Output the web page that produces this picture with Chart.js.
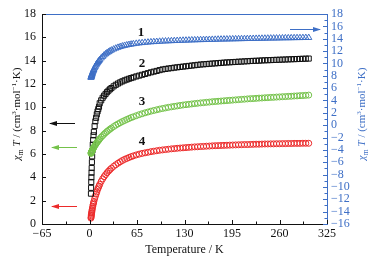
<!DOCTYPE html>
<html><head><meta charset="utf-8">
<script src="https://cdn.jsdelivr.net/npm/chart.js@4"></script>
<style>html,body{margin:0;padding:0;background:#fff}#wrap{width:375px;height:257px}</style>
</head><body><div id="wrap"><canvas id="c" width="375" height="257"></canvas></div>
<script>
const temps = [2,2.2,2.4,2.6,2.8,3,3.3,3.6,4,4.5,5,5.5,6,7,8,9,10,11,12,13,14,16,18,20,22,24,26,28,30,33,36,39,42,45,48,51,54,57,60,64,68,72,76,80,84,88,92,96,100,104,108,112,116,120,124,128,132,136,140,144,148,152,156,160,164,168,172,176,180,184,188,192,196,200,204,208,212,216,220,224,228,232,236,240,244,248,252,256,260,264,268,272,276,280,284,288,292,296,300];
const series1 = [7.7,7.78,7.86,7.94,8.02,8.1,8.2,8.3,8.43,8.6,8.76,8.9,9.03,9.27,9.5,9.72,9.92,10.1,10.27,10.43,10.58,10.85,11.1,11.33,11.53,11.7,11.86,12.0,12.13,12.3,12.45,12.58,12.7,12.8,12.89,12.97,13.04,13.1,13.16,13.23,13.29,13.34,13.39,13.43,13.47,13.5,13.53,13.56,13.59,13.61,13.63,13.65,13.67,13.69,13.71,13.73,13.74,13.76,13.78,13.79,13.81,13.82,13.83,13.85,13.86,13.87,13.88,13.9,13.91,13.92,13.93,13.94,13.95,13.96,13.97,13.98,13.99,14.0,14.01,14.02,14.03,14.04,14.05,14.06,14.07,14.08,14.08,14.09,14.1,14.11,14.12,14.12,14.13,14.14,14.15,14.15,14.16,14.17,14.17];
const series2 = [2.6,3.1,3.6,4.0,4.4,4.8,5.3,5.8,6.3,6.8,7.2,7.6,7.9,8.4,8.8,9.1,9.4,9.65,9.85,10.05,10.35,10.6,10.82,11.0,11.15,11.3,11.43,11.55,11.65,11.8,11.93,12.04,12.14,12.23,12.31,12.38,12.45,12.51,12.57,12.65,12.72,12.79,12.86,12.93,13.0,13.06,13.12,13.19,13.25,13.29,13.33,13.36,13.4,13.43,13.46,13.49,13.52,13.55,13.58,13.61,13.64,13.67,13.69,13.71,13.73,13.75,13.77,13.79,13.81,13.83,13.85,13.86,13.88,13.89,13.91,13.92,13.94,13.95,13.97,13.98,13.99,14.0,14.02,14.03,14.04,14.05,14.06,14.07,14.08,14.09,14.1,14.11,14.12,14.13,14.14,14.15,14.16,14.17,14.18];
const series3 = [6.05,6.08,6.11,6.14,6.17,6.2,6.24,6.28,6.33,6.4,6.46,6.52,6.58,6.68,6.78,6.88,6.97,7.06,7.14,7.22,7.3,7.44,7.57,7.7,7.82,7.93,8.03,8.13,8.22,8.35,8.47,8.58,8.68,8.78,8.87,8.96,9.04,9.12,9.19,9.28,9.37,9.45,9.53,9.6,9.67,9.73,9.79,9.85,9.9,9.95,10.0,10.04,10.08,10.12,10.16,10.2,10.23,10.26,10.29,10.32,10.35,10.38,10.4,10.43,10.45,10.48,10.5,10.52,10.54,10.56,10.58,10.6,10.62,10.64,10.66,10.68,10.7,10.72,10.74,10.75,10.77,10.79,10.8,10.82,10.83,10.85,10.86,10.88,10.89,10.91,10.92,10.94,10.95,10.97,10.98,11.0,11.01,11.03,11.05];
const series4 = [0.5,0.6,0.7,0.8,0.9,0.98,1.1,1.22,1.36,1.52,1.67,1.8,1.93,2.16,2.37,2.56,2.74,2.95,3.1,3.25,3.4,3.65,3.87,4.06,4.23,4.39,4.53,4.66,4.78,4.94,5.08,5.21,5.33,5.44,5.54,5.62,5.7,5.77,5.84,5.92,5.99,6.05,6.1,6.15,6.2,6.24,6.28,6.32,6.35,6.38,6.41,6.44,6.46,6.49,6.51,6.53,6.55,6.57,6.59,6.61,6.62,6.64,6.65,6.67,6.68,6.7,6.71,6.72,6.73,6.74,6.75,6.76,6.77,6.78,6.79,6.8,6.81,6.81,6.82,6.83,6.84,6.84,6.85,6.86,6.86,6.87,6.87,6.88,6.88,6.89,6.89,6.9,6.9,6.91,6.91,6.91,6.92,6.92,6.92];
const seriesLabels = ['1','2','3','4'];
const xTicks = [-65,0,65,130,195,260,325];
const leftTicks = [0,2,4,6,8,10,12,14,16,18];
const rightTicks = [-16,-14,-12,-10,-8,-6,-4,-2,0,2,4,6,8,10,12,14,16,18];

const BLUE = '#3e6fc6', BLACK = '#111', GREEN = '#74c24a', RED = '#ec2a2a';
const SERIF = '"Liberation Serif", "DejaVu Serif", serif';
const fmt = v => v < 0 ? '−' + Math.abs(v) : String(v);

function pts(vals){ return temps.map((t,i)=>({x:t,y:vals[i]})); }

function arrow(ctx, x1, y, x2, color){
  ctx.save(); ctx.strokeStyle=color; ctx.fillStyle=color; ctx.lineWidth=1;
  ctx.beginPath(); ctx.moveTo(x1,y+0.5); ctx.lineTo(x2,y+0.5); ctx.stroke();
  const d = x2 > x1 ? 1 : -1;
  ctx.beginPath(); ctx.moveTo(x2+d*1,y+0.5); ctx.lineTo(x2-d*7,y-2); ctx.lineTo(x2-d*7,y+3); ctx.closePath(); ctx.fill();
  ctx.restore();
}

function drawTitle(ctx, cx, cy, color, targetLen){
  ctx.save(); ctx.translate(cx, cy); ctx.rotate(-Math.PI/2);
  ctx.fillStyle = color; ctx.textBaseline='alphabetic';
  const parts = [
    ['italic 11px '+SERIF, 'χ', 0],
    ['8px '+SERIF, 'm', 3],
    ['italic 11px '+SERIF, ' T', 0],
    ['11px '+SERIF, ' / (cm', 0],
    ['7px '+SERIF, '3', -4.5],
    ['11px '+SERIF, '·mol', 0],
    ['7px '+SERIF, '−1', -4.5],
    ['11px '+SERIF, '·K)', 0]
  ];
  let total = 0;
  parts.forEach(p=>{ ctx.font=p[0]; total += ctx.measureText(p[1]).width; });
  const k = Math.min(1, targetLen/total);
  ctx.scale(k, 1);
  let x = -total/2;
  parts.forEach(p=>{ ctx.font=p[0]; ctx.fillText(p[1], x, 4+p[2]); x += ctx.measureText(p[1]).width; });
  ctx.restore();
}

const decor = {
  id:'decor',
  afterDraw(chart){
    const ctx = chart.ctx, a = chart.chartArea;
    const sx = chart.scales.x, sy = chart.scales.y, sy2 = chart.scales.y2;
    ctx.save();
    ctx.lineWidth = 1;
    ctx.strokeStyle = BLUE;
    ctx.beginPath(); ctx.moveTo(a.left, a.top+0.5); ctx.lineTo(a.right, a.top+0.5); ctx.stroke();
    ctx.strokeStyle = BLACK;
    xTicks.forEach((v,i)=>{
      const px = Math.round(sx.getPixelForValue(v))+0.5;
      ctx.beginPath(); ctx.moveTo(px, a.bottom); ctx.lineTo(px, a.bottom-4); ctx.stroke();
      if (i < xTicks.length-1){
        const pm = Math.round(sx.getPixelForValue(v+32.5))+0.5;
        ctx.beginPath(); ctx.moveTo(pm, a.bottom); ctx.lineTo(pm, a.bottom-2.5); ctx.stroke();
      }
    });
    leftTicks.forEach(v=>{
      const py = Math.round(sy.getPixelForValue(v))+0.5;
      ctx.beginPath(); ctx.moveTo(a.left, py); ctx.lineTo(a.left+4, py); ctx.stroke();
    });
    ctx.strokeStyle = BLUE;
    rightTicks.forEach((v,i)=>{
      const py = Math.round(sy2.getPixelForValue(v))+0.5;
      ctx.beginPath(); ctx.moveTo(a.right, py); ctx.lineTo(a.right-4, py); ctx.stroke();
      if (i < rightTicks.length-1){
        const pm = Math.round(sy2.getPixelForValue(v+1))+0.5;
        ctx.beginPath(); ctx.moveTo(a.right, pm); ctx.lineTo(a.right-2.5, pm); ctx.stroke();
      }
    });
    arrow(ctx, 75, 123, 50, BLACK);
    arrow(ctx, 77, 147, 52, GREEN);
    arrow(ctx, 77, 206, 52, RED);
    arrow(ctx, 290, 29, 320, BLUE);
    ctx.fillStyle = BLACK; ctx.font = 'bold 13px '+SERIF; ctx.textAlign='center'; ctx.textBaseline='middle';
    ctx.fillText(seriesLabels[0], 141, 33);
    ctx.fillText(seriesLabels[1], 142, 64);
    ctx.fillText(seriesLabels[2], 142, 102);
    ctx.fillText(seriesLabels[3], 142, 142);
    ctx.restore();
    drawTitle(ctx, 16, 114, BLACK, 100);
    drawTitle(ctx, 361, 114, BLUE, 100);
  }
};

const ds = (label, vals, color, style, r, axis) => ({
  label, data: pts(vals), yAxisID: axis, showLine:false,
  pointStyle: style, pointRadius: r, pointBorderColor: color, pointBackgroundColor: 'rgba(255,255,255,0)',
  pointBorderWidth: 1, borderColor: color, backgroundColor: color
});

new Chart(document.getElementById('c'), {
  type:'scatter',
  data:{ datasets:[
    ds(seriesLabels[2], series3, GREEN, 'circle', 3, 'y'),
    ds(seriesLabels[1], series2, BLACK, 'rect', 3.6, 'y'),
    ds(seriesLabels[0], series1, BLUE, 'triangle', 3.6, 'y2'),
    ds(seriesLabels[3], series4, RED, 'circle', 3, 'y')
  ]},
  options:{
    responsive:false, animation:false, devicePixelRatio:1,
    layout:{padding:{top:14,left:0,right:0,bottom:0}},
    plugins:{legend:{display:false}, tooltip:{enabled:false}},
    scales:{
      x:{type:'linear', min:-65, max:325, afterFit(s){s.height=33;},
        afterBuildTicks(s){ s.ticks = xTicks.map(v=>({value:v})); },
        grid:{display:false, drawTicks:false}, border:{display:true, color:BLACK, width:1},
        ticks:{padding:3, color:BLACK, font:{family:SERIF, size:12}, maxRotation:0, autoSkip:false, callback:fmt},
        title:{display:true, text:'Temperature / K', color:BLACK, font:{family:SERIF, size:12}, padding:{top:0,bottom:0}}
      },
      y:{type:'linear', position:'left', min:0, max:18, afterFit(s){s.width=42;},
        afterBuildTicks(s){ s.ticks = leftTicks.map(v=>({value:v})); },
        grid:{display:false, drawTicks:false}, border:{display:true, color:BLACK, width:1},
        ticks:{padding:6, color:BLACK, font:{family:SERIF, size:12}, autoSkip:false}
      },
      y2:{type:'linear', position:'right', min:-16, max:18, afterFit(s){s.width=48;},
        afterBuildTicks(s){ s.ticks = rightTicks.map(v=>({value:v})); },
        grid:{display:false, drawTicks:false}, border:{display:true, color:BLUE, width:1},
        ticks:{padding:4, color:BLUE, font:{family:SERIF, size:12}, autoSkip:false, callback:fmt}
      }
    }
  },
  plugins:[decor]
});
</script>
</body></html>
